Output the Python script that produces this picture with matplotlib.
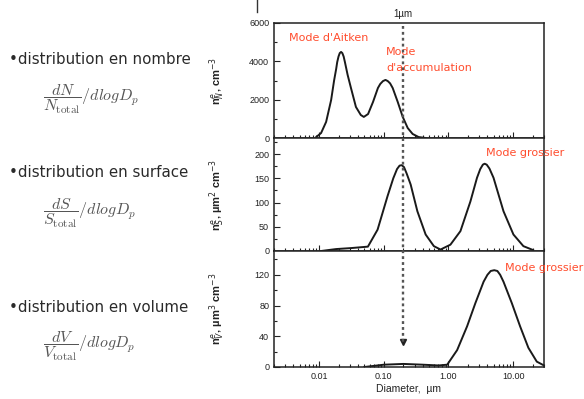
import numpy as np
import matplotlib.pyplot as plt
from matplotlib.lines import Line2D
from matplotlib.ticker import FixedLocator, MultipleLocator, LogLocator, NullFormatter
from matplotlib.transforms import blended_transform_factory

# Number distribution (diameter in um, n_N in cm^-3)
diam_number = [0.0090, 0.0107, 0.0128, 0.0153, 0.0170, 0.0183, 0.0190, 0.0199, 0.0208,
               0.0218, 0.0228, 0.0239, 0.0250, 0.0275, 0.031, 0.037, 0.044, 0.049,
               0.057, 0.068, 0.081, 0.088, 0.097, 0.106, 0.115, 0.125, 0.137, 0.164,
               0.196, 0.234, 0.279, 0.345, 0.443]
number_conc = [50, 260, 840, 1980, 3000, 3600, 3960, 4250, 4430,
               4490, 4430, 4250, 3960, 3300, 2610, 1620, 1200, 1100,
               1250, 1880, 2610, 2820, 2970, 3030, 2970, 2850, 2610, 1880,
               1100, 520, 210, 50, 0]

# Surface distribution (um^2 cm^-3)
diam_surface = [0.0107, 0.0183, 0.031, 0.0567, 0.080, 0.114, 0.140, 0.160, 0.175, 0.189,
                0.205, 0.225, 0.260, 0.330, 0.443, 0.594, 0.753, 1.07, 1.53, 2.18, 2.76,
                3.10, 3.40, 3.62, 3.90, 4.30, 4.97, 7.09, 10.1, 14.4, 20.3]
surface_conc = [0, 4, 6, 9, 44, 113, 150, 169, 176, 177,
                173, 160, 137, 82, 34, 10, 3, 13, 41, 102, 151,
                169, 178, 180, 178, 170, 151, 82, 34, 10, 2]

# Volume distribution (um^3 cm^-3)
diam_volume = [0.05, 0.10, 0.20, 0.40, 0.70, 0.955, 1.36, 1.94, 2.60, 3.49, 4.00, 4.50,
               5.10, 5.70, 6.30, 7.09, 9.55, 12.8, 17.2, 23.2, 30.0]
volume_conc = [0, 3, 4, 3, 2, 3, 22, 53, 83, 111, 120, 125,
               126, 125, 120, 111, 83, 53, 25, 7, 2]

cut_diam = 0.2      # dotted "1 um" marker
arrow_tip = 33

x_ticks = [0.01, 0.1, 1, 10]
x_ticklabels = ["0.01", "0.10", "1.00", "10.00"]

panels = [
    (diam_number, number_conc, [0, 2000, 4000, 6000], 1000, 6000,
     r"n$_N^e$, cm$^{-3}$"),
    (diam_surface, surface_conc, [0, 50, 100, 150, 200], 25, 233,
     r"n$_S^e$, µm$^2$ cm$^{-3}$"),
    (diam_volume, volume_conc, [0, 40, 80, 120], 20, 151,
     r"n$_V^e$, µm$^3$ cm$^{-3}$"),
]

W, H = 584, 399
fig = plt.figure(figsize=(W / 100, H / 100), dpi=100)

# axes boxes in pixels (top, bottom)
boxes = [(23, 138), (138, 251), (251, 367)]
x0, x1 = 274, 544
axes = []
for (top, bot), (xd, yd, yt, ymin, ytop, ylab) in zip(boxes, panels):
    ax = fig.add_axes([x0 / W, 1 - bot / H, (x1 - x0) / W, (bot - top) / H])
    ax.plot(xd, yd, color="#1a1a1a", lw=1.4)
    ax.set_xscale("log")
    ax.set_xlim(0.002, 30)
    ax.set_ylim(0, ytop)
    ax.yaxis.set_major_locator(FixedLocator(yt))
    ax.yaxis.set_minor_locator(MultipleLocator(ymin))
    ax.xaxis.set_major_locator(FixedLocator(x_ticks))
    ax.xaxis.set_minor_locator(LogLocator(base=10, subs=np.arange(2, 10)))
    ax.xaxis.set_minor_formatter(NullFormatter())
    ax.tick_params(which="both", direction="in", top=False, right=False,
                   labelsize=6.5, width=0.8, colors="#222")
    ax.tick_params(which="major", length=4)
    ax.tick_params(which="minor", length=2.2)
    for lab in ax.get_yticklabels():
        lab.set_fontfamily("Liberation Sans")
    for s in ax.spines.values():
        s.set_linewidth(1.1)
        s.set_color("#222")
    yl = ax.set_ylabel(ylab, fontsize=8, fontfamily="Liberation Sans",
                       fontweight="bold", color="#222")
    yl.set_math_fontfamily("dejavusans")
    ax.yaxis.set_label_coords(-0.175, 0.5)
    axes.append(ax)

ax1, ax2, ax3 = axes
for ax in (ax1, ax2):
    ax.set_xticklabels([])
ax3.set_xticklabels(x_ticklabels, fontfamily="Liberation Sans")
ax3.set_xlabel("Diameter,  µm", fontsize=7.5, fontfamily="Liberation Sans",
               color="#222", labelpad=2)

# dotted vertical marker with arrow head
trans = blended_transform_factory(ax3.transData, fig.transFigure)
tip_y = fig.transFigure.inverted().transform(
    ax3.transData.transform((cut_diam, arrow_tip)))[1]
fig.add_artist(Line2D([cut_diam, cut_diam], [1 - 26 / H, tip_y], transform=trans,
                      ls=(0, (1.2, 1.3)), lw=1.7, color="#555"))
ax3.plot([cut_diam], [arrow_tip], marker="v", ms=4.5, color="#222", clip_on=False)
fig.text(cut_diam, 1 - 14 / H, "1µm", transform=trans, ha="center", va="center",
         fontsize=7, fontfamily="Liberation Sans", color="#222")

# small stray mark at top
fig.add_artist(Line2D([257 / W, 257 / W], [1.0, 1 - 12 / H], color="#333", lw=1))

# red mode labels
red = "#ff4d2e"
lab_font = dict(fontsize=8, color=red, fontfamily="DejaVu Sans", va="center", ha="left")
ax1.text(0.056, 0.87, "Mode d'Aitken", transform=ax1.transAxes, **lab_font)
ax1.text(0.415, 0.75, "Mode", transform=ax1.transAxes, **lab_font)
ax1.text(0.415, 0.61, "d'accumulation", transform=ax1.transAxes, **lab_font)
ax2.text(0.785, 0.867, "Mode grossier", transform=ax2.transAxes, clip_on=False, **lab_font)
ax3.text(0.856, 0.853, "Mode grossier", transform=ax3.transAxes, clip_on=False, **lab_font)

# left-hand descriptions
left_texts = ["•distribution en nombre", "•distribution en surface",
              "•distribution en volume"]
formulas = [r"$\dfrac{dN}{N_{\mathrm{total}}}/dlogD_p$",
            r"$\dfrac{dS}{S_{\mathrm{total}}}/dlogD_p$",
            r"$\dfrac{dV}{V_{\mathrm{total}}}/dlogD_p$"]
text_y = [60, 173, 307]
formula_y = [99, 213, 346]
for t, f, ty, fy in zip(left_texts, formulas, text_y, formula_y):
    fig.text(9 / W, 1 - ty / H, t, fontsize=10.8, fontfamily="DejaVu Sans", color="#2a2a2a",
             va="center", ha="left")
    ft = fig.text(43 / W, 1 - fy / H, f, fontsize=11.5, color="#555", va="center",
                  ha="left")
    ft.set_math_fontfamily("cm")

fig.savefig("out.png", dpi=100)
